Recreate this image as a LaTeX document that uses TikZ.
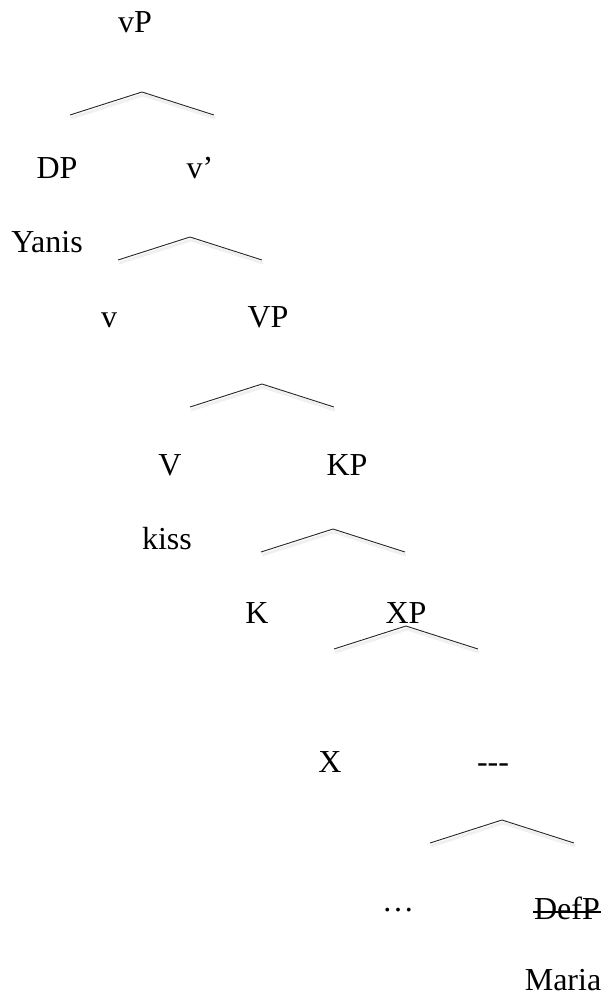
\documentclass[tikz,border=0pt]{standalone}
\usepackage{fontspec}
\setmainfont{Liberation Serif}

\begin{document}
\begin{tikzpicture}[x=1pt,y=-1pt,
  lbl/.style={anchor=base,inner sep=0pt,font=\fontsize{32}{38}\selectfont},
  branch/.style={line width=0.9pt,black!85,
    preaction={draw=black!6,line width=3pt,transform canvas={shift={(1pt,-3pt)}}}}]
  \useasboundingbox (0,0) rectangle (604,996);
  % labels
  \node[lbl] (vP)    at (135,32)  {vP};
  \node[lbl] (DP)    at (57,178)  {DP};
  \node[lbl] (vbar)  at (200,178) {v’};
  \node[lbl] (yanis) at (47,252)  {Yanis};
  \node[lbl] (v)     at (109,327) {v};
  \node[lbl] (VP)    at (268,327) {VP};
  \node[lbl] (V)     at (170,475) {V};
  \node[lbl] (KP)    at (347,475) {KP};
  \node[lbl] (kiss)  at (167,549) {kiss};
  \node[lbl] (K)     at (257,623) {K};
  \node[lbl] (XP)    at (406,623) {XP};
  \node[lbl] (X)     at (330,772) {X};
  \node[lbl] (gap)   at (493,772) {-{}-{}-};
  \node[lbl] (dots)  at (398,911) {…};
  \node[lbl] (defp)  at (567,919) {DefP};
  \node[lbl] (maria) at (563,990) {Maria};
  % strike through DefP
  \draw[line width=1.6pt] ([xshift=-1pt,yshift=7pt]defp.base west) -- ([xshift=1pt,yshift=7pt]defp.base east);
  % branches
  \coordinate (t1) at (142,92);
  \coordinate (t2) at (190,237);
  \coordinate (t3) at (262,384);
  \coordinate (t4) at (333,529);
  \coordinate (t5) at (406,626);
  \coordinate (t6) at (502,820);
  \foreach \t in {t1,t2,t3,t4,t5,t6}
    \draw[branch] (\t) ++(-72,23) -- (\t) -- ++(72,23);
\end{tikzpicture}
\end{document}
